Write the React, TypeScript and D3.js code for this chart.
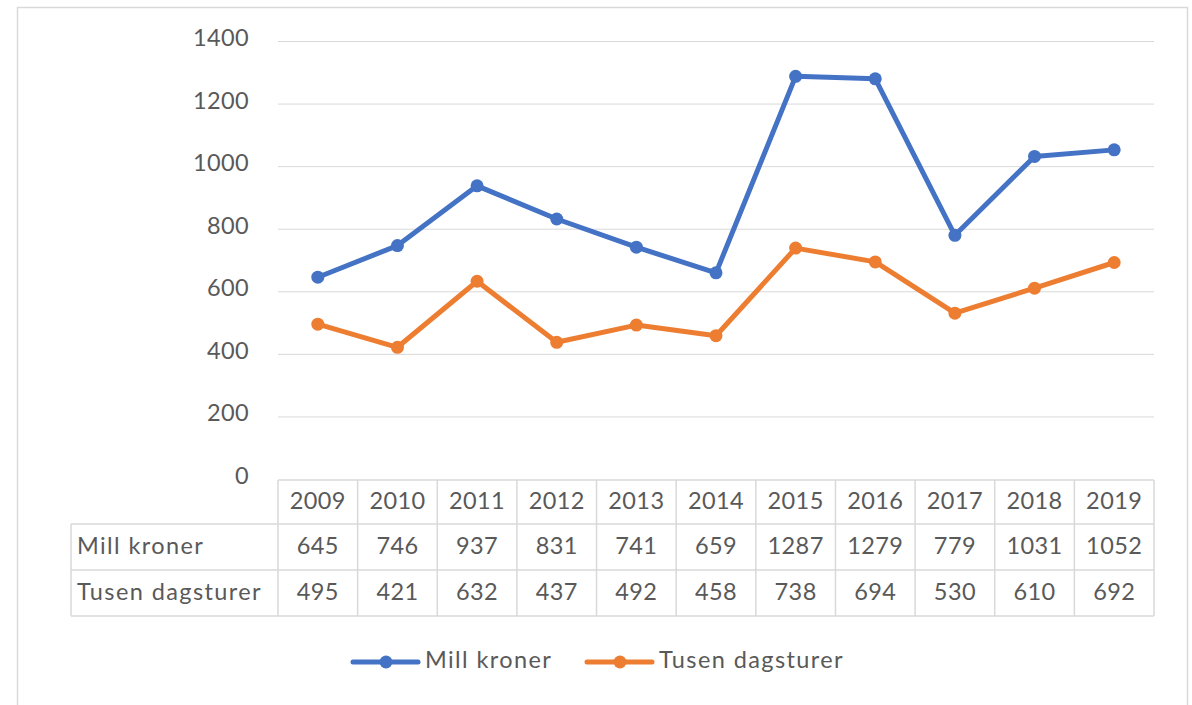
import React, { useEffect, useRef } from "react";
import * as d3 from "d3";

const years = ["2009", "2010", "2011", "2012", "2013", "2014", "2015", "2016", "2017", "2018", "2019"];
const millKroner = [645, 746, 937, 831, 741, 659, 1287, 1279, 779, 1031, 1052];
const tusenDagsturer = [495, 421, 632, 437, 492, 458, 738, 694, 530, 610, 692];
const yTicks = [0, 200, 400, 600, 800, 1000, 1200, 1400];
const seriesNames = ["Mill kroner", "Tusen dagsturer"];
const seriesColors = ["#4472C4", "#ED7D31"];

const W = 1192, H = 705;
const plotLeft = 278, plotRight = 1154, plotTop = 41, plotBottom = 479;
const tableLeft = 71;
const rowEdges = [480, 524, 570, 616];
const font = "Lato, 'Open Sans', sans-serif";
const textColor = "#595959";
const gridColor = "#d9d9d9";

export default function App() {
  const ref = useRef<SVGSVGElement>(null);

  useEffect(() => {
    const svg = d3.select(ref.current);
    svg.selectAll("*").remove();

    const x = d3.scaleBand().domain(years).range([plotLeft, plotRight]).padding(0);
    const y = d3.scaleLinear().domain([0, 1400]).range([plotBottom, plotTop]);

    // outer frame
    svg.append("rect")
      .attr("x", 17.5).attr("y", 7.5).attr("width", 1170).attr("height", 720)
      .attr("fill", "#fff").attr("stroke", gridColor).attr("stroke-width", 1.5);

    const numText = (sel: any) => sel.attr("font-family", font).attr("font-size", 23.5)
      .attr("letter-spacing", 0.4).attr("fill", textColor).attr("dominant-baseline", "middle");
    const labelText = (sel: any) => sel.attr("font-family", font).attr("font-size", 23.5)
      .attr("letter-spacing", 1.4).attr("fill", textColor).attr("dominant-baseline", "middle");

    // grid + y labels
    const g = svg.append("g");
    g.selectAll("line.grid").data(yTicks.slice(1)).join("line")
      .attr("x1", plotLeft).attr("x2", plotRight)
      .attr("y1", d => y(d) + 0.5).attr("y2", d => y(d) + 0.5)
      .attr("stroke", gridColor).attr("stroke-width", 1);
    g.selectAll("text.ytick").data(yTicks).join("text")
      .attr("x", 249).attr("y", d => y(d) - 1)
      .attr("text-anchor", "end").call(numText)
      .text(d => d);

    // data table
    const t = svg.append("g");
    const gridStroke = (sel: any) => sel.attr("stroke", gridColor).attr("stroke-width", 1.5).attr("fill", "none");
    t.append("line").attr("x1", plotLeft).attr("x2", plotRight).attr("y1", rowEdges[0]).attr("y2", rowEdges[0]).call(gridStroke);
    rowEdges.slice(1).forEach(ry => {
      t.append("line").attr("x1", tableLeft).attr("x2", plotRight).attr("y1", ry).attr("y2", ry).call(gridStroke);
    });
    t.append("line").attr("x1", tableLeft).attr("x2", tableLeft).attr("y1", rowEdges[1]).attr("y2", rowEdges[3]).call(gridStroke);
    const colEdges = years.map(yr => x(yr)!).concat([plotRight]);
    colEdges.forEach(cx => {
      t.append("line").attr("x1", cx).attr("x2", cx).attr("y1", rowEdges[0]).attr("y2", rowEdges[3]).call(gridStroke);
    });
    const rowMid = (i: number) => (rowEdges[i] + rowEdges[i + 1]) / 2 + 1;
    t.selectAll("text.year").data(years).join("text")
      .attr("x", d => x(d)! + x.bandwidth() / 2).attr("y", rowMid(0))
      .attr("text-anchor", "middle").call(numText).text(d => d);
    [millKroner, tusenDagsturer].forEach((vals, si) => {
      t.append("text").attr("x", tableLeft + 6).attr("y", rowMid(si + 1)).call(labelText).text(seriesNames[si]);
      t.selectAll(`text.v${si}`).data(vals).join("text")
        .attr("x", (d, i) => x(years[i])! + x.bandwidth() / 2).attr("y", rowMid(si + 1))
        .attr("text-anchor", "middle").call(numText).text(d => d);
    });

    // lines
    const line = d3.line<number>()
      .x((d, i) => x(years[i])! + x.bandwidth() / 2)
      .y(d => y(d));
    [millKroner, tusenDagsturer].forEach((vals, si) => {
      const s = svg.append("g");
      s.append("path").datum(vals).attr("d", line)
        .attr("fill", "none").attr("stroke", seriesColors[si]).attr("stroke-width", 5)
        .attr("stroke-linejoin", "round").attr("stroke-linecap", "round");
      s.selectAll("circle").data(vals).join("circle")
        .attr("cx", (d, i) => x(years[i])! + x.bandwidth() / 2).attr("cy", d => y(d))
        .attr("r", 6.5).attr("fill", seriesColors[si]);
    });

    // legend
    const legendX = [353, 587];
    seriesNames.forEach((name, si) => {
      const lg = svg.append("g").attr("transform", `translate(${legendX[si]},662)`);
      lg.append("line").attr("x1", 0).attr("x2", 65).attr("y1", 0).attr("y2", 0)
        .attr("stroke", seriesColors[si]).attr("stroke-width", 5).attr("stroke-linecap", "round");
      lg.append("circle").attr("cx", 33).attr("cy", 0).attr("r", 6.5).attr("fill", seriesColors[si]);
      lg.append("text").attr("x", 72).attr("y", 0).call(labelText).text(name);
    });
  }, []);

  return (
    <svg ref={ref} width={W} height={H}
      style={{ position: "absolute", left: 0, top: 0, display: "block", background: "#fff" }} />
  );
}
